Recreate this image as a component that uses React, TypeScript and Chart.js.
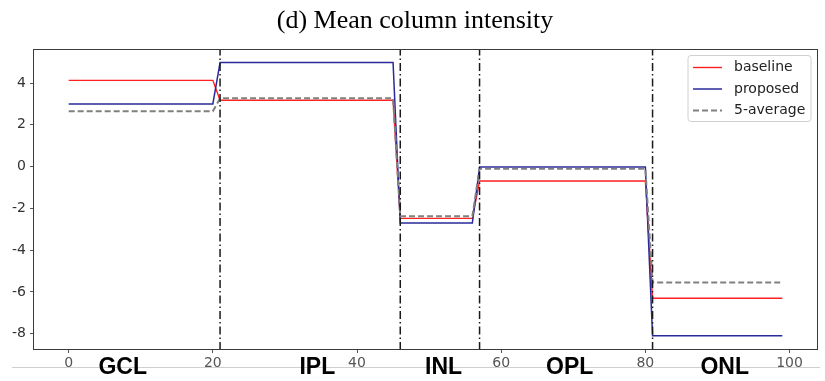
import React, { useEffect, useRef } from "react";
import { Chart, registerables } from "chart.js";

Chart.register(...registerables);

const TITLE = "(d) Mean column intensity";
const X_BREAKS = [0, 20, 21, 45, 46, 56, 57, 80, 81, 99];
const BASELINE = [4.13, 4.13, 3.18, 3.18, -2.48, -2.48, -0.69, -0.69, -6.3, -6.3];
const PROPOSED = [3.0, 3.0, 4.98, 4.98, -2.7, -2.7, -0.02, -0.02, -8.1, -8.1];
const AVERAGE = [2.65, 2.65, 3.27, 3.27, -2.38, -2.38, -0.1, -0.1, -5.55, -5.55];
const BOUNDARIES = [21, 46, 57, 81];
const LAYERS = ["GCL", "IPL", "INL", "OPL", "ONL"];
const LAYER_POS = [7.5, 34.5, 52, 69.5, 91];
const X_TICKS = [0, 20, 40, 60, 80, 100];
const Y_TICKS = [-8, -6, -4, -2, 0, 2, 4];
const X_MIN = -4.95;
const X_MAX = 103.95;
const Y_MIN = -8.78;
const Y_MAX = 5.63;

const pts = (ys: number[]) => X_BREAKS.map((x, i) => ({ x, y: ys[i] }));

const decorPlugin = {
  id: "decor",
  afterDraw(chart: any) {
    const ctx = chart.ctx;
    const a = chart.chartArea;
    const xs = chart.scales.x;
    ctx.save();
    // frame
    ctx.strokeStyle = "#3a3a3a";
    ctx.lineWidth = 1;
    ctx.strokeRect(a.left + 0.5, a.top + 0.5, a.right - a.left - 1, a.bottom - a.top - 1);
    // title
    ctx.fillStyle = "#000";
    ctx.font = '26px "Liberation Serif", "Times New Roman", serif';
    ctx.textAlign = "center";
    ctx.textBaseline = "middle";
    ctx.fillText(TITLE, 415, 21);
    // legend
    const lx = 688, ly = 55.5, lw = 123, lh = 66;
    ctx.beginPath();
    const r = 3;
    ctx.moveTo(lx + r, ly);
    ctx.arcTo(lx + lw, ly, lx + lw, ly + lh, r);
    ctx.arcTo(lx + lw, ly + lh, lx, ly + lh, r);
    ctx.arcTo(lx, ly + lh, lx, ly, r);
    ctx.arcTo(lx, ly, lx + lw, ly, r);
    ctx.closePath();
    ctx.fillStyle = "rgba(255,255,255,0.85)";
    ctx.fill();
    ctx.strokeStyle = "#d0d0d0";
    ctx.stroke();
    ctx.font = '14px "DejaVu Sans", sans-serif';
    ctx.textAlign = "left";
    ctx.textBaseline = "middle";
    chart.data.datasets.slice(0, 3).forEach((ds: any, i: number) => {
      const y = 67.5 + i * 21.5;
      ctx.beginPath();
      ctx.strokeStyle = ds.borderColor;
      ctx.lineWidth = ds.borderWidth;
      ctx.setLineDash(ds.borderDash || []);
      ctx.moveTo(693, y);
      ctx.lineTo(722, y);
      ctx.stroke();
      ctx.setLineDash([]);
      ctx.fillStyle = "#222";
      ctx.fillText(ds.label, 734, y);
    });
    // separator line
    ctx.beginPath();
    ctx.strokeStyle = "#cfcfcf";
    ctx.lineWidth = 1;
    ctx.moveTo(12, 367.5);
    ctx.lineTo(820, 367.5);
    ctx.stroke();
    // layer labels
    ctx.fillStyle = "#000";
    ctx.font = 'bold 23px "Liberation Sans", Arial, sans-serif';
    ctx.textAlign = "center";
    ctx.textBaseline = "middle";
    LAYERS.forEach((t, i) => {
      ctx.fillText(t, xs.getPixelForValue(LAYER_POS[i]), 368);
    });
    ctx.restore();
  },
};

export default function App() {
  const ref = useRef<HTMLCanvasElement>(null);
  useEffect(() => {
    if (!ref.current) return;
    const boundarySets = BOUNDARIES.map((b) => ({
      label: "b" + b,
      data: [
        { x: b, y: Y_MIN },
        { x: b, y: Y_MAX },
      ],
      borderColor: "#1a1a1a",
      borderWidth: 1.5,
      borderDash: [8, 3, 1.5, 3],
      pointRadius: 0,
      order: 0,
    }));
    const tickGrid = {
      display: true,
      drawOnChartArea: false,
      drawTicks: true,
      tickLength: 3,
      color: "#555",
    };
    const chart = new Chart(ref.current, {
      type: "line",
      data: {
        datasets: [
          {
            label: "baseline",
            data: pts(BASELINE),
            borderColor: "#ff2020",
            borderWidth: 1.4,
            pointRadius: 0,
            order: 3,
          },
          {
            label: "proposed",
            data: pts(PROPOSED),
            borderColor: "#2a2a9a",
            borderWidth: 1.5,
            pointRadius: 0,
            order: 2,
          },
          {
            label: "5-average",
            data: pts(AVERAGE),
            borderColor: "#808080",
            borderWidth: 2,
            borderDash: [6, 3],
            pointRadius: 0,
            order: 1,
          },
          ...boundarySets,
        ] as any,
      },
      options: {
        responsive: false,
        animation: false,
        events: [],
        layout: { padding: { left: 0, right: 7, top: 49, bottom: 0 } },
        plugins: { legend: { display: false }, tooltip: { enabled: false }, title: { display: false } },
        elements: { line: { tension: 0 } },
        scales: {
          x: {
            type: "linear",
            min: X_MIN,
            max: X_MAX,
            grid: tickGrid,
            border: { display: false },
            afterBuildTicks: (s: any) => {
              s.ticks = X_TICKS.map((v) => ({ value: v }));
            },
            afterFit: (s: any) => {
              s.height = 31;
            },
            ticks: {
              padding: 2,
              color: "#555",
              maxRotation: 0,
              autoSkip: false,
              font: { family: '"DejaVu Sans", sans-serif', size: 14 },
            },
          },
          y: {
            type: "linear",
            min: Y_MIN,
            max: Y_MAX,
            grid: tickGrid,
            border: { display: false },
            afterBuildTicks: (s: any) => {
              s.ticks = Y_TICKS.map((v) => ({ value: v }));
            },
            afterFit: (s: any) => {
              s.width = 33;
            },
            ticks: {
              padding: 4,
              color: "#333",
              autoSkip: false,
              font: { family: '"DejaVu Sans", sans-serif', size: 14 },
            },
          },
        },
      },
      plugins: [decorPlugin],
    } as any);
    return () => chart.destroy();
  }, []);
  return (
    <div style={{ position: "absolute", left: 0, top: 0, width: 825, height: 381, background: "#fff" }}>
      <canvas ref={ref} width={825} height={381} style={{ display: "block" }} />
    </div>
  );
}
